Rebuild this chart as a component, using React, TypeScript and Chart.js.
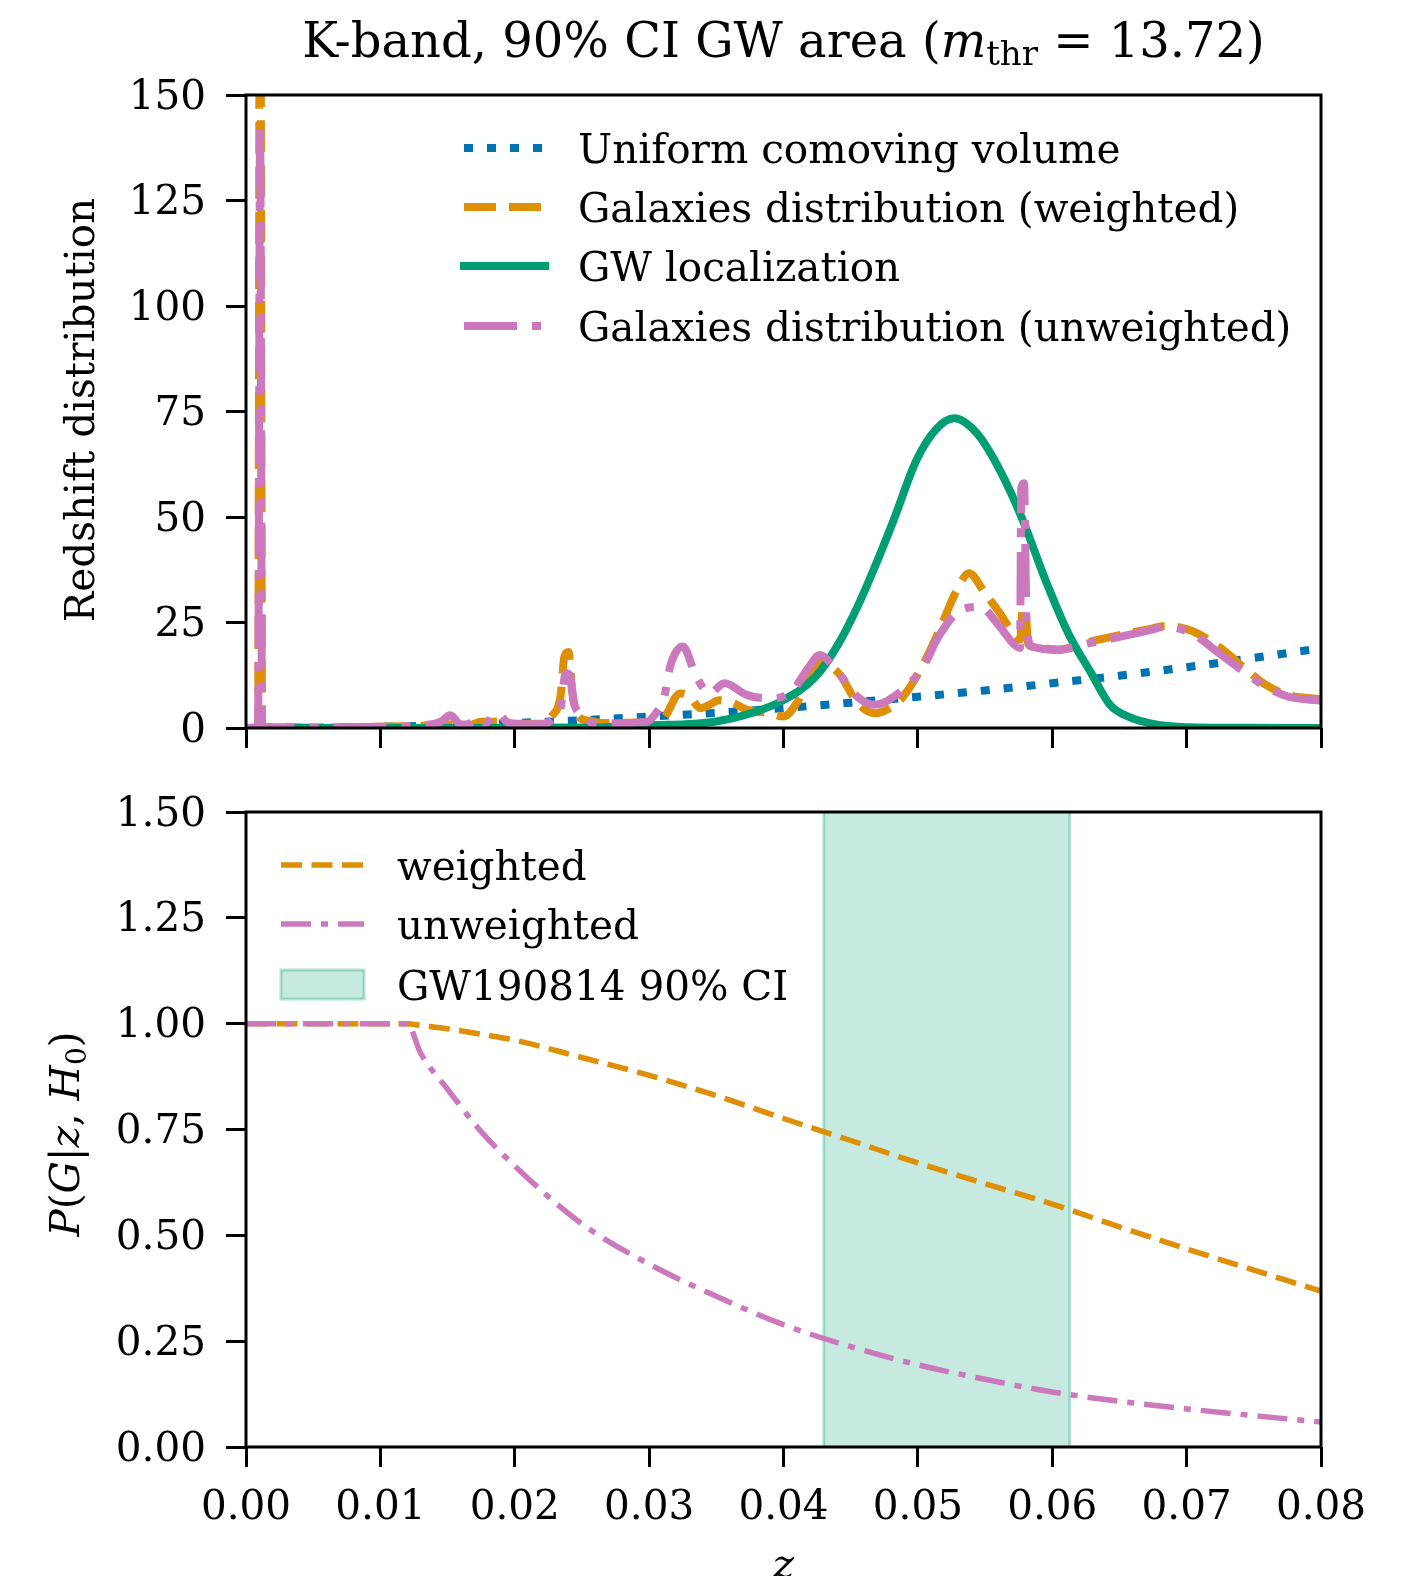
import React, { useEffect, useRef } from "react";
import { Chart, registerables } from "chart.js";

Chart.register(...registerables);

const SERIF = '"DejaVu Serif", "Liberation Serif", serif';
const BLUE = "#0173b2";
const ORANGE = "#de8f05";
const GREEN = "#029e73";
const PINK = "#cc78bc";
const FS = 40.5;

// ---- ticks ----
const zTicks = [0, 0.01, 0.02, 0.03, 0.04, 0.05, 0.06, 0.07, 0.08];
const topYTicks = [0, 25, 50, 75, 100, 125, 150];
const bottomYTicks = [0, 0.25, 0.5, 0.75, 1.0, 1.25, 1.5];

// ---- top panel: redshift distributions ----
const uniformZ = [0, 0.005, 0.01, 0.015, 0.02, 0.025, 0.03, 0.035, 0.04, 0.045, 0.05, 0.055, 0.06, 0.065, 0.07, 0.075, 0.08];
const uniformVals = [0, 0.07, 0.3, 0.7, 1.2, 1.85, 2.7, 3.6, 4.7, 6.0, 7.4, 8.9, 10.6, 12.4, 14.4, 16.6, 18.9];

const gwZ = [0, 0.01, 0.02, 0.025, 0.03, 0.0349, 0.0376, 0.04, 0.0424, 0.0441, 0.0455, 0.0468, 0.0482, 0.0499, 0.0513, 0.0527, 0.0544, 0.0561, 0.0578, 0.0595, 0.0612, 0.0629, 0.0643, 0.0658, 0.0673, 0.07, 0.075, 0.08];
const gwVals = [0, 0, 0.05, 0.1, 0.6, 1.5, 3.5, 6.6, 12.2, 20, 28.7, 38.2, 49.3, 63.5, 70.6, 73.4, 69.8, 61.1, 49.3, 35, 22.4, 13, 5.5, 2.5, 1.1, 0.2, 0.05, 0];

const weightedZ = [0, 0.0009, 0.00105, 0.0012, 0.002, 0.005, 0.01, 0.013, 0.015, 0.0165, 0.0175, 0.019, 0.0195, 0.022, 0.0228, 0.0234, 0.0237, 0.024, 0.0243, 0.0248, 0.0256, 0.0265, 0.03, 0.031, 0.0323, 0.033, 0.0338, 0.0345, 0.0352, 0.0362, 0.0373, 0.039, 0.04, 0.041, 0.042, 0.0428, 0.0441, 0.0455, 0.0468, 0.0478, 0.0488, 0.0503, 0.0516, 0.0528, 0.0538, 0.055, 0.0561, 0.0571, 0.0576, 0.0578, 0.058, 0.0582, 0.0585, 0.0605, 0.0626, 0.065, 0.0673, 0.0684, 0.0704, 0.0725, 0.0742, 0.0759, 0.0776, 0.08];
const weightedVals = [0, 0.3, 220, 0.3, 0.2, 0.1, 0.3, 0.5, 0.9, 0.6, 1.5, 1.5, 1.0, 1.0, 3.0, 7.5, 17, 18, 8, 2.5, 1.7, 1.2, 1.3, 2.0, 8.2, 7.5, 4.7, 5.5, 6.6, 6.0, 4.3, 3.5, 2.7, 6, 12, 15.5, 13, 6, 3.5, 4.5, 7, 14.5, 23.2, 32, 36.7, 31.9, 27.2, 22.4, 21, 28, 28, 20, 19.3, 18.6, 20.3, 22, 23.5, 24.2, 23, 19, 14.5, 10.2, 7.8, 6.8];

const unweightedZ = [0, 0.0009, 0.00105, 0.0012, 0.002, 0.005, 0.01, 0.013, 0.0145, 0.0152, 0.016, 0.0166, 0.0172, 0.0178, 0.0187, 0.0195, 0.0205, 0.022, 0.0228, 0.0234, 0.0238, 0.0241, 0.0244, 0.0251, 0.0258, 0.027, 0.0298, 0.0305, 0.0311, 0.0316, 0.0325, 0.0335, 0.0345, 0.0356, 0.0373, 0.0393, 0.0407, 0.0418, 0.0427, 0.0441, 0.0455, 0.0468, 0.0482, 0.0503, 0.0516, 0.0532, 0.0546, 0.0561, 0.0571, 0.0576, 0.0577, 0.0579, 0.0581, 0.0585, 0.0605, 0.0626, 0.065, 0.0673, 0.0684, 0.0704, 0.0725, 0.0742, 0.0759, 0.0776, 0.08];
const unweightedVals = [0, 0.3, 143, 0.3, 0.2, 0.1, 0.3, 0.6, 1.5, 3.0, 0.8, 1.0, 2.4, 1.2, 3.5, 1.3, 0.9, 0.9, 2, 4.5, 13, 12.5, 6, 3.1, 1.2, 1.1, 1.4, 3.5, 7, 15, 19.3, 12.2, 8.2, 10.6, 7.8, 7, 9, 14, 17.3, 13, 7.4, 5.5, 7.4, 14, 22, 28, 28.7, 24, 20, 19, 57, 58, 24, 19.3, 18.5, 20, 21.6, 23.2, 24, 22.4, 17.5, 13.5, 9.8, 7.4, 6.5];

// ---- bottom panel: P(G|z,H0) ----
const pgZ = [0, 0.005, 0.01, 0.012, 0.013, 0.015, 0.0175, 0.02, 0.025, 0.03, 0.035, 0.04, 0.045, 0.05, 0.055, 0.06, 0.065, 0.07, 0.075, 0.08];
const pgWeighted = [1, 1, 1, 1, 0.996, 0.988, 0.975, 0.961, 0.92, 0.878, 0.83, 0.776, 0.724, 0.671, 0.622, 0.574, 0.52, 0.468, 0.418, 0.368];
const pgUnweighted = [1, 1, 1, 1, 0.93, 0.845, 0.745, 0.664, 0.527, 0.432, 0.356, 0.289, 0.237, 0.194, 0.16, 0.13, 0.108, 0.09, 0.074, 0.059];
const ciBand = [0.043, 0.0613];

const pts = (xs: number[], ys: number[]) => xs.map((x, i) => ({ x, y: ys[i] }));

type Part = { t: string; f: string; dy?: number };
function drawRich(ctx: CanvasRenderingContext2D, parts: Part[], cx: number, baseline: number) {
  let total = 0;
  parts.forEach((p) => {
    ctx.font = p.f;
    total += ctx.measureText(p.t).width;
  });
  let x = cx - total / 2;
  ctx.textAlign = "left";
  ctx.textBaseline = "alphabetic";
  parts.forEach((p) => {
    ctx.font = p.f;
    ctx.fillText(p.t, x, baseline + (p.dy || 0));
    x += ctx.measureText(p.t).width;
  });
}

const framePlugin = {
  id: "frame",
  afterDraw(chart: any) {
    const { ctx, chartArea: a } = chart;
    ctx.save();
    ctx.strokeStyle = "#000";
    ctx.lineWidth = 3;
    ctx.setLineDash([]);
    ctx.strokeRect(a.left, a.top, a.right - a.left, a.bottom - a.top);
    ctx.restore();
  },
};

function legendLine(ctx: CanvasRenderingContext2D, x0: number, x1: number, y: number, color: string, lw: number, dash: number[], cap: CanvasLineCap) {
  ctx.save();
  ctx.strokeStyle = color;
  ctx.lineWidth = lw;
  ctx.lineCap = cap;
  ctx.setLineDash(dash);
  ctx.beginPath();
  ctx.moveTo(x0, y);
  ctx.lineTo(x1, y);
  ctx.stroke();
  ctx.restore();
}

const TOP_DASH = { dotted: [9, 14], dashed: [32, 13], dashdot: [53, 15, 9, 15] };
const BOT_DASH = { dashed: [21, 9.5], dashdot: [30, 10, 7, 10] };

const topDecor = {
  id: "topDecor",
  afterDraw(chart: any) {
    const { ctx, chartArea: a } = chart;
    ctx.save();
    ctx.fillStyle = "#000";
    // title
    drawRich(
      ctx,
      [
        { t: "K-band, 90% CI GW area (", f: `48px ${SERIF}` },
        { t: "m", f: `italic 48px ${SERIF}` },
        { t: "thr", f: `34px ${SERIF}`, dy: 8 },
        { t: " = 13.72)", f: `48px ${SERIF}` },
      ],
      (a.left + a.right) / 2,
      57
    );
    // y label
    ctx.save();
    ctx.translate(94, 410);
    ctx.rotate(-Math.PI / 2);
    drawRich(ctx, [{ t: "Redshift distribution", f: `${FS}px ${SERIF}` }], 0, 0);
    ctx.restore();
    // legend
    const rows = [
      { y: 148, label: "Uniform comoving volume", color: BLUE, dash: TOP_DASH.dotted, cap: "butt" as CanvasLineCap },
      { y: 207, label: "Galaxies distribution (weighted)", color: ORANGE, dash: TOP_DASH.dashed, cap: "butt" as CanvasLineCap },
      { y: 266, label: "GW localization", color: GREEN, dash: [] as number[], cap: "square" as CanvasLineCap },
      { y: 326, label: "Galaxies distribution (unweighted)", color: PINK, dash: TOP_DASH.dashdot, cap: "butt" as CanvasLineCap },
    ];
    rows.forEach((r) => {
      legendLine(ctx, 464, 545, r.y, r.color, 8, r.dash, r.cap);
      ctx.fillStyle = "#000";
      ctx.font = `${FS}px ${SERIF}`;
      ctx.textAlign = "left";
      ctx.textBaseline = "alphabetic";
      ctx.fillText(r.label, 578, r.y + 15);
    });
    ctx.restore();
  },
};

const bandPlugin = {
  id: "band",
  beforeDatasetsDraw(chart: any) {
    const { ctx, chartArea: a, scales } = chart;
    const x0 = scales.x.getPixelForValue(ciBand[0]);
    const x1 = scales.x.getPixelForValue(ciBand[1]);
    ctx.save();
    ctx.fillStyle = "rgba(2,158,115,0.22)";
    ctx.fillRect(x0, a.top, x1 - x0, a.bottom - a.top);
    ctx.strokeStyle = "rgba(2,158,115,0.3)";
    ctx.lineWidth = 3;
    ctx.beginPath();
    ctx.moveTo(x0, a.top);
    ctx.lineTo(x0, a.bottom);
    ctx.moveTo(x1, a.top);
    ctx.lineTo(x1, a.bottom);
    ctx.stroke();
    ctx.restore();
  },
};

const OFF = 770;
const bottomDecor = {
  id: "bottomDecor",
  afterDraw(chart: any) {
    const { ctx, chartArea: a } = chart;
    ctx.save();
    ctx.fillStyle = "#000";
    // x label
    drawRich(ctx, [{ t: "z", f: `italic ${FS}px ${SERIF}` }], (a.left + a.right) / 2, 1578 - OFF);
    // y label
    ctx.save();
    ctx.translate(79, 1134 - OFF);
    ctx.rotate(-Math.PI / 2);
    const R = `${FS}px ${SERIF}`;
    const I = `italic ${FS}px ${SERIF}`;
    drawRich(
      ctx,
      [
        { t: "P", f: I },
        { t: "(", f: R },
        { t: "G", f: I },
        { t: "|", f: R },
        { t: "z", f: I },
        { t: ", ", f: R },
        { t: "H", f: I },
        { t: "0", f: `28px ${SERIF}`, dy: 7 },
        { t: ")", f: R },
      ],
      0,
      0
    );
    ctx.restore();
    // legend
    legendLine(ctx, 281, 364, 865 - OFF, ORANGE, 5.5, BOT_DASH.dashed, "butt");
    legendLine(ctx, 281, 364, 924 - OFF, PINK, 5.5, BOT_DASH.dashdot, "butt");
    ctx.fillStyle = "rgba(2,158,115,0.22)";
    ctx.fillRect(281, 970 - OFF, 83, 29);
    ctx.strokeStyle = "rgba(2,158,115,0.3)";
    ctx.lineWidth = 3;
    ctx.strokeRect(281, 970 - OFF, 83, 29);
    ctx.fillStyle = "#000";
    ctx.font = `${FS}px ${SERIF}`;
    ctx.textAlign = "left";
    ctx.textBaseline = "alphabetic";
    ctx.fillText("weighted", 397, 865 - OFF + 15);
    ctx.fillText("unweighted", 397, 924 - OFF + 15);
    ctx.fillText("GW190814 90% CI", 397, 985 - OFF + 15);
    ctx.restore();
  },
};

const gridOpts = {
  drawOnChartArea: false,
  drawTicks: true,
  tickLength: 20,
  tickWidth: 3,
  tickColor: "#000",
  color: "#000",
  lineWidth: 3,
};

function lineDs(label: string, data: any[], color: string, lw: number, dash: number[], order: number) {
  return {
    label,
    data,
    borderColor: color,
    backgroundColor: color,
    borderWidth: lw,
    borderDash: dash,
    borderCapStyle: "butt",
    borderJoinStyle: "round",
    pointRadius: 0,
    fill: false,
    cubicInterpolationMode: "monotone",
    order,
    clip: 0,
  };
}

const fitY = (s: any) => {
  s.width = 246;
  s.paddingTop = 0;
  s.paddingBottom = 0;
};

export default function App() {
  const topRef = useRef<HTMLCanvasElement>(null);
  const botRef = useRef<HTMLCanvasElement>(null);

  useEffect(() => {
    document.body.style.margin = "0";
    const tickFont = { family: SERIF, size: FS };
    const top = new Chart(topRef.current as HTMLCanvasElement, {
      type: "line",
      data: {
        datasets: [
          lineDs("Uniform comoving volume", pts(uniformZ, uniformVals), BLUE, 8, TOP_DASH.dotted, 4),
          lineDs("Galaxies distribution (weighted)", pts(weightedZ, weightedVals), ORANGE, 8, TOP_DASH.dashed, 3),
          lineDs("GW localization", pts(gwZ, gwVals), GREEN, 8, [], 2),
          lineDs("Galaxies distribution (unweighted)", pts(unweightedZ, unweightedVals), PINK, 8, TOP_DASH.dashdot, 1),
        ] as any,
      },
      options: {
        animation: false,
        responsive: false,
        events: [],
        layout: { padding: { top: 95, right: 92, left: 0, bottom: 0 } },
        plugins: { legend: { display: false }, tooltip: { enabled: false }, title: { display: false } },
        scales: {
          x: {
            type: "linear",
            min: 0,
            max: 0.08,
            afterBuildTicks: (s: any) => {
              s.ticks = zTicks.map((value) => ({ value }));
            },
            afterFit: (s: any) => {
              s.height = 42;
            },
            ticks: { display: false },
            grid: gridOpts,
            border: { display: false },
          },
          y: {
            type: "linear",
            min: 0,
            max: 150,
            afterBuildTicks: (s: any) => {
              s.ticks = topYTicks.map((value) => ({ value }));
            },
            afterFit: fitY,
            ticks: { font: tickFont, color: "#000", padding: 20, labelOffset: 3, callback: (v: any) => String(v) },
            grid: gridOpts,
            border: { display: false },
          },
        },
      } as any,
      plugins: [framePlugin, topDecor],
    });

    const bot = new Chart(botRef.current as HTMLCanvasElement, {
      type: "line",
      data: {
        datasets: [
          lineDs("weighted", pts(pgZ, pgWeighted), ORANGE, 5.5, BOT_DASH.dashed, 2),
          lineDs("unweighted", pts(pgZ, pgUnweighted), PINK, 5.5, BOT_DASH.dashdot, 1),
        ] as any,
      },
      options: {
        animation: false,
        responsive: false,
        events: [],
        layout: { padding: { top: 42, right: 92, left: 0, bottom: 0 } },
        plugins: { legend: { display: false }, tooltip: { enabled: false }, title: { display: false } },
        scales: {
          x: {
            type: "linear",
            min: 0,
            max: 0.08,
            afterBuildTicks: (s: any) => {
              s.ticks = zTicks.map((value) => ({ value }));
            },
            afterFit: (s: any) => {
              s.height = 129;
            },
            ticks: { font: tickFont, color: "#000", padding: 17, maxRotation: 0, autoSkip: false, callback: (v: any) => Number(v).toFixed(2) },
            grid: gridOpts,
            border: { display: false },
          },
          y: {
            type: "linear",
            min: 0,
            max: 1.5,
            afterBuildTicks: (s: any) => {
              s.ticks = bottomYTicks.map((value) => ({ value }));
            },
            afterFit: fitY,
            ticks: { font: tickFont, color: "#000", padding: 20, labelOffset: 3, callback: (v: any) => Number(v).toFixed(2) },
            grid: gridOpts,
            border: { display: false },
          },
        },
      } as any,
      plugins: [bandPlugin, framePlugin, bottomDecor],
    });

    return () => {
      top.destroy();
      bot.destroy();
    };
  }, []);

  return (
    <div style={{ position: "relative", width: 1413, height: 1576, background: "#fff", overflow: "hidden" }}>
      <div style={{ position: "absolute", left: 0, top: 0, width: 1413, height: 770 }}>
        <canvas ref={topRef} width={1413} height={770} style={{ width: 1413, height: 770, display: "block" }} />
      </div>
      <div style={{ position: "absolute", left: 0, top: OFF, width: 1413, height: 806 }}>
        <canvas ref={botRef} width={1413} height={806} style={{ width: 1413, height: 806, display: "block" }} />
      </div>
    </div>
  );
}
